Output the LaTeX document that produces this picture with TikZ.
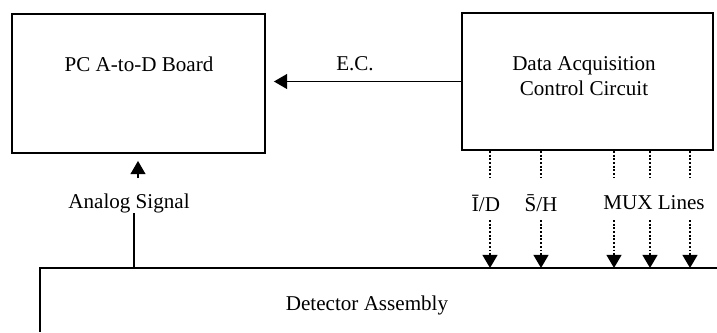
\documentclass[tikz,border=0pt]{standalone}
\usepackage{fontspec}
\setmainfont{Liberation Serif}
\usetikzlibrary{arrows.meta}

\begin{document}
\begin{tikzpicture}[x=.02cm,y=-.02cm,>={Triangle[length=7.5pt,width=8.5pt]},
  font=\fontsize{12}{14.2}\selectfont,
  blk/.style={draw,line width=1.1pt,minimum width=#1,inner sep=0pt},
  wire/.style={line width=.7pt},
  sig/.style={line width=1.1pt,densely dotted}]
  \useasboundingbox (0,0) rectangle (717,332);
  % blocks
  \node[blk=5.06cm,minimum height=2.78cm] (pc) at (138.5,83.5) {};
  \node[blk=5.02cm,minimum height=2.74cm] (daq) at (587.5,81.5) {};
  \coordinate (det) at (40,268);
  \draw[line width=1.1pt] (717,268) -- (det) -- (40,332);
  % texts
  \node (pclab) at (139,64) {PC A-to-D Board};
  \node[align=center] (daqlab) at (584,76) {Data Acquisition\\Control Circuit};
  \node (ec) at (355,64) {E.C.};
  \node (ana) at (129,203) {Analog Signal};
  \node (idl) at (486,203) {\={I}/D};
  \node (shl) at (541,203) {\={S}/H};
  \node (muxl) at (654,203) {MUX Lines};
  \node (detlab) at (367,305) {Detector Assembly};
  % connectors
  \draw[wire,->,shorten >=.16cm] (daq.west) -- (daq.west -| pc.east);
  \coordinate (aup) at (138,178);
  \coordinate (alow) at (134,213);
  \draw[wire,->,shorten >=.14cm] (aup) -- (aup |- pc.south);
  \draw[wire,line width=1pt] (alow) -- (alow |- det);
  \foreach \x/\n in {490/1,541/2,614/3,650/4,690/5}{
    \coordinate (u\n) at (\x,178);
    \coordinate (l\n) at (\x,220);
    \draw[sig] (daq.south -| u\n) -- (u\n);
    \draw[sig,->] (l\n) -- (l\n |- det);
  }
\end{tikzpicture}
\end{document}
